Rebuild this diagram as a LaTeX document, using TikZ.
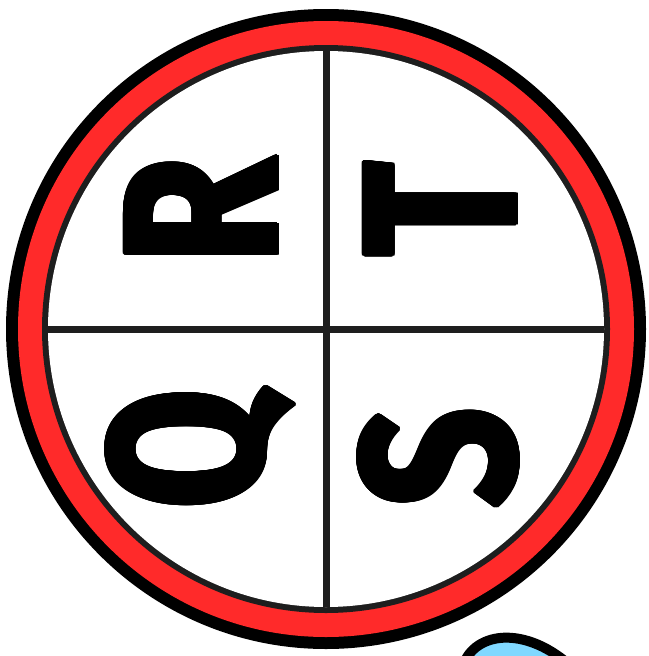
\documentclass[tikz,border=0pt]{standalone}
\usepackage{fontspec}
\usepackage[copies]{contour}
\contourlength{2.6pt}
\contournumber{24}
\newfontfamily\letterfont{Fira Sans}
\definecolor{ringred}{RGB}{255,42,42}
\definecolor{ringgrey}{RGB}{30,30,30}
\definecolor{dropblue}{RGB}{128,216,255}
\tikzset{
  quarter/.style={anchor=center,inner sep=0pt,rotate=90,xscale=0.8,
    font=\letterfont\bfseries\fontsize{218}{218}\selectfont},
}
\begin{document}
\begin{tikzpicture}[x=1pt,y=1pt,yscale=-1]
\useasboundingbox (0,0) rectangle (648,656);

%Circles 
\fill [black] (326,329) circle [radius=320];
\fill [ringred] (326,329) circle [radius=308];
\fill [ringgrey] (326,329) circle [radius=284];
\fill [white] (326,329) circle [radius=278];

%Straight Lines 
\draw [ringgrey,line width=7] (326,51) -- (326,607) ;
\draw [ringgrey,line width=7] (48,329) -- (604,329) ;

%Drop 
\begin{scope}
\clip (0,0) rectangle (648,656);
\draw [black,line width=10,fill=dropblue] (462,670) .. controls (470,632) and (525,622) .. (575,670) ;
\end{scope}

% Text Node
\node (letterR) [quarter] at (203,211) {\contour{black}{R}};
% Text Node
\node (letterT) [quarter] at (442,209) {\contour{black}{T}};
% Text Node
\node (letterQ) [quarter] at (202,449) {\contour{black}{Q}};
% Text Node
\node (letterS) [quarter] at (440,458) {\contour{black}{S}};

\end{tikzpicture}
\end{document}
